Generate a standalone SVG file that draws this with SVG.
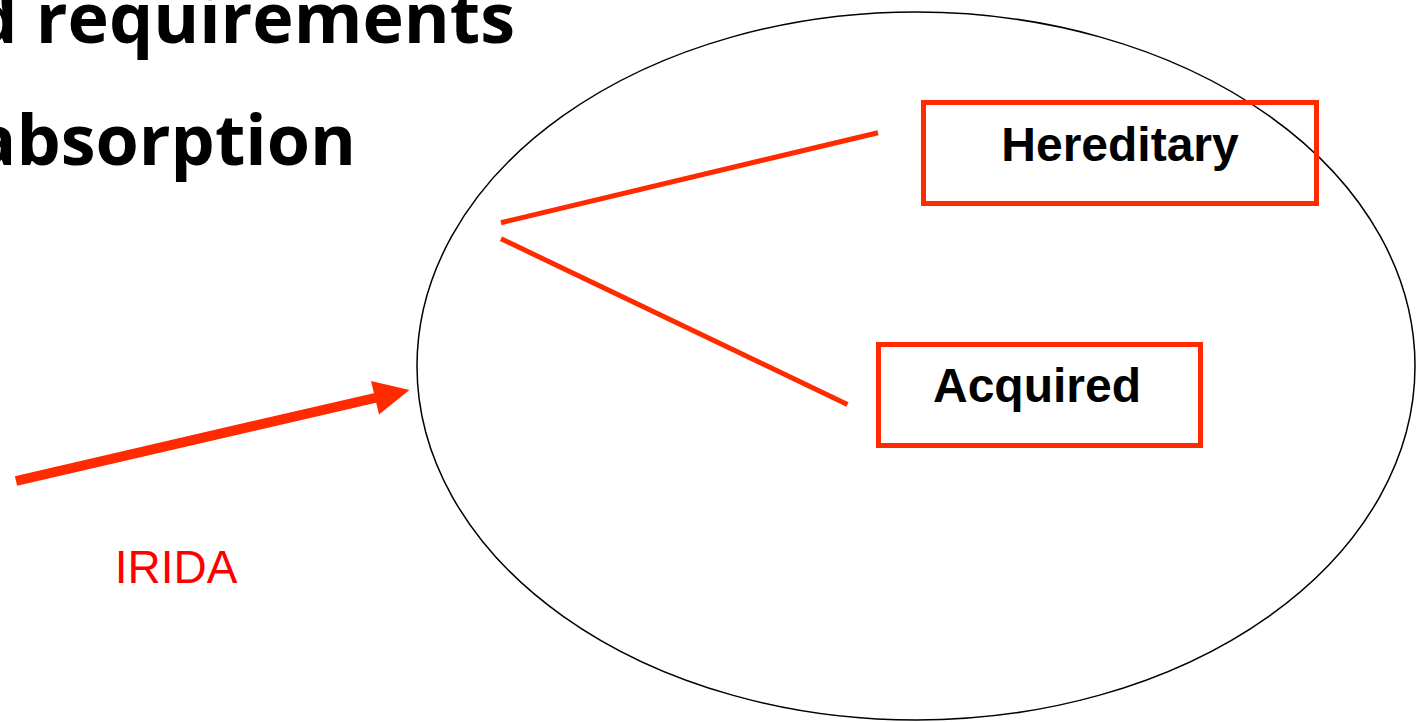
<svg xmlns="http://www.w3.org/2000/svg" width="1421" height="722" viewBox="0 0 1421 722">
<style>
.title{font-family:"Open Sans","Liberation Sans",sans-serif;font-weight:700;font-size:70px;fill:#000}
.box{fill:none;stroke:#FF2A00;stroke-width:5}
.lbl{font-family:"Liberation Sans",Arial,sans-serif;font-weight:700;font-size:48px;fill:#000;text-anchor:middle}
.con{stroke:#FF2A00;stroke-width:5;fill:none}
</style>
<rect width="1421" height="722" fill="#fff"/>
<g id="title">
<text class="title" x="515" y="43" text-anchor="end">d requirements</text>
<text class="title" x="356" y="165" text-anchor="end">absorption</text>
</g>
<g id="ellipse">
<ellipse cx="916" cy="366" rx="499" ry="354" fill="none" stroke="#000" stroke-width="1.5"/>
</g>
<g id="hereditary">
<rect class="box" x="923.5" y="102.5" width="393" height="101"/>
<text class="lbl" x="1120" y="161">Hereditary</text>
</g>
<g id="acquired">
<rect class="box" x="878.5" y="344.5" width="322" height="101"/>
<text class="lbl" x="1037" y="402">Acquired</text>
</g>
<g id="irida">
<text x="176" y="583" font-family="Liberation Sans, Arial, sans-serif" font-size="46" fill="#FF0000" text-anchor="middle">IRIDA</text>
</g>
<g id="connectors">
<line class="con" x1="501" y1="222.7" x2="878" y2="132.7"/>
<line class="con" x1="501" y1="238.7" x2="847.5" y2="404.5"/>
<line x1="16" y1="481" x2="377" y2="397.5" stroke="#FF2A00" stroke-width="10"/>
<polygon points="409.5,390 371,381 379,414.5" fill="#FF2A00"/>
</g>
</svg>
